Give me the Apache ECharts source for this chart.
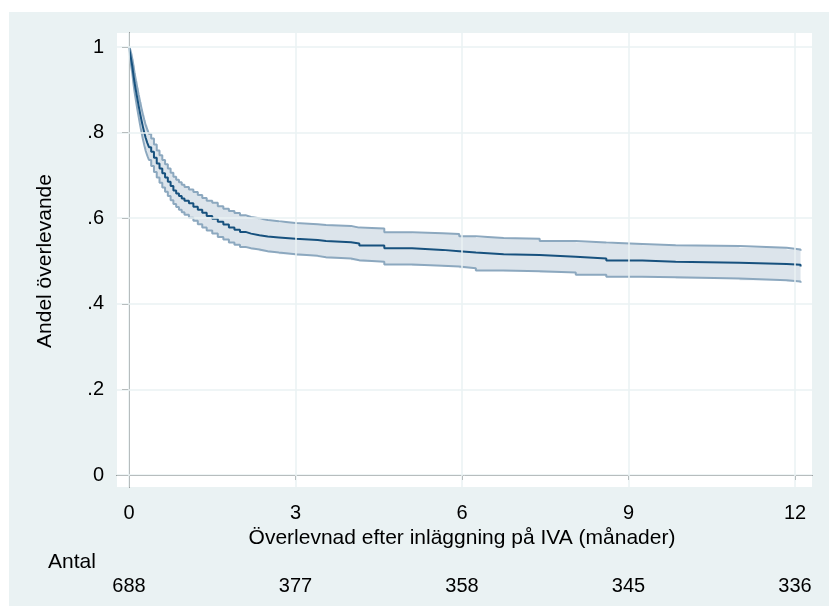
<!DOCTYPE html>
<html>
	<head>
		<meta charset="utf-8" />
		<script type="text/javascript" src="https://cdn.jsdelivr.net/npm/echarts@6/dist/echarts.min.js"></script>
		<title></title>
		<style>
			body { margin: 0; background: #ffffff; }
			#chartmain { position: absolute; left: 9px; top: 12px; width: 820px; height: 594px; }
		</style>
	</head>
	<body>
		<div id="chartmain"></div>
		<script type="text/javascript">
// tid i månader
var tid = [
  0, 0.02, 0.04, 0.06, 0.08,
  0.1, 0.125, 0.15, 0.175, 0.2,
  0.225, 0.25, 0.275, 0.3, 0.33,
  0.36, 0.4, 0.45, 0.5, 0.55,
  0.6, 0.65, 0.7, 0.75, 0.8,
  0.85, 0.9, 0.95, 1.0, 1.08,
  1.16, 1.24, 1.32, 1.4, 1.5,
  1.6, 1.7, 1.8, 1.9, 2.0,
  2.1, 2.2, 2.35, 2.5, 2.7,
  3.0, 3.4, 3.55, 4.0, 4.15, 4.6, 5.1, 5.65, 5.95, 6.25,
  6.75, 7.4, 8.05, 8.6, 9.25, 9.85, 11.0, 11.85, 12.1];
// andel överlevande (Kaplan-Meier)
var overlevnad = [
  1, 0.985, 0.97, 0.955, 0.935,
  0.917, 0.898, 0.88, 0.862, 0.845,
  0.829, 0.814, 0.80, 0.788, 0.776,
  0.766, 0.755, 0.741, 0.728, 0.716,
  0.705, 0.695, 0.685, 0.675, 0.665,
  0.658, 0.652, 0.646, 0.641, 0.635,
  0.627, 0.620, 0.613, 0.605, 0.599,
  0.592, 0.585, 0.578, 0.573, 0.568,
  0.564, 0.560, 0.557, 0.555, 0.552,
  0.549, 0.547, 0.544, 0.541, 0.536, 0.530, 0.526, 0.523, 0.520, 0.516,
  0.514, 0.510, 0.506, 0.501, 0.498, 0.496, 0.493, 0.491, 0.487];
// 95% konfidensintervall
var ovre = [
  1, 0.995, 0.985, 0.972, 0.957,
  0.94, 0.922, 0.905, 0.888, 0.872,
  0.857, 0.843, 0.83, 0.818, 0.807,
  0.797, 0.786, 0.772, 0.758, 0.747,
  0.736, 0.726, 0.716, 0.706, 0.697,
  0.690, 0.684, 0.678, 0.673, 0.667,
  0.661, 0.654, 0.647, 0.641, 0.636,
  0.628, 0.622, 0.617, 0.612, 0.607,
  0.603, 0.600, 0.596, 0.593, 0.589,
  0.586, 0.584, 0.582, 0.578, 0.576, 0.567, 0.565, 0.563, 0.558, 0.554,
  0.552, 0.547, 0.543, 0.540, 0.537, 0.535, 0.531, 0.527, 0.524];
var undre = [
  1, 0.975, 0.955, 0.938, 0.915,
  0.895, 0.875, 0.855, 0.836, 0.818,
  0.801, 0.785, 0.771, 0.758, 0.746,
  0.736, 0.722, 0.708, 0.695, 0.683,
  0.672, 0.662, 0.652, 0.642, 0.633,
  0.626, 0.620, 0.614, 0.608, 0.601,
  0.594, 0.586, 0.578, 0.571, 0.564,
  0.556, 0.550, 0.543, 0.538, 0.533,
  0.530, 0.527, 0.523, 0.520, 0.516,
  0.512, 0.509, 0.506, 0.502, 0.498, 0.492, 0.489, 0.487, 0.483, 0.478,
  0.476, 0.473, 0.468, 0.463, 0.462, 0.459, 0.455, 0.452, 0.449];
// antal i risk vid 0, 3, 6, 9, 12 månader
var riskTid = [0, 3, 6, 9, 12];
var antal = [688, 377, 358, 345, 336];
var yTicks = [0, 0.2, 0.4, 0.6, 0.8, 1];

var bg = '#EAF2F3';
var font = '"Liberation Sans", Arial, sans-serif';

function pairs(ys) {
  return tid.map(function (t, i) { return [t, ys[i]]; });
}

// konfidensband som trappstegspolygon
function renderBand(params, api) {
  var pts = [];
  var n = tid.length;
  for (var i = 0; i < n; i++) {
    pts.push(api.coord([tid[i], ovre[i]]));
    if (i < n - 1) pts.push(api.coord([tid[i + 1], ovre[i]]));
  }
  for (var j = n - 1; j >= 0; j--) {
    if (j < n - 1) pts.push(api.coord([tid[j + 1], undre[j]]));
    pts.push(api.coord([tid[j], undre[j]]));
  }
  return {
    type: 'polygon',
    shape: { points: pts },
    style: { fill: '#DCE4EB', stroke: null }
  };
}

var gridLines = riskTid.map(function (v) { return { xAxis: v }; })
  .concat(yTicks.map(function (v) { return { yAxis: v }; }));

option = {
  animation: false,
  backgroundColor: bg,
  textStyle: { fontFamily: font },
  graphic: [
    { type: 'text', left: 39, top: 540, style: { text: 'Antal', fontSize: 21, fontFamily: font, fill: '#000' } }
  ],
  grid: [
    { left: 108, right: 17, top: 21, bottom: 119, show: true, backgroundColor: '#ffffff', borderWidth: 0 },
    { left: 120, right: 34, top: 35, bottom: 131 }
  ],
  xAxis: [
    {
      gridIndex: 0, type: 'value', min: -0.216, max: 12.306,
      offset: 2,
      axisLine: { show: true, lineStyle: { color: '#222', width: 1 } },
      axisTick: { show: false }, axisLabel: { show: false }, splitLine: { show: false }
    },
    {
      gridIndex: 1, type: 'value', min: 0, max: 12, interval: 3,
      offset: 14,
      name: 'Överlevnad efter inläggning på IVA (månader)',
      nameLocation: 'middle', nameGap: 33,
      nameTextStyle: { fontSize: 21, color: '#000', fontFamily: font },
      axisLine: { show: false },
      axisTick: { show: true, length: 5, lineStyle: { color: '#222' } },
      axisLabel: { fontSize: 20, color: '#000', margin: 14, fontFamily: font },
      splitLine: { show: false }
    },
    {
      gridIndex: 1, type: 'value', min: 0, max: 12, interval: 3,
      position: 'bottom', offset: 90,
      axisLine: { show: false }, axisTick: { show: false }, splitLine: { show: false },
      axisLabel: {
        fontSize: 20, color: '#000', margin: 11, fontFamily: font,
        formatter: function (v) { return String(antal[riskTid.indexOf(v)]); }
      }
    }
  ],
  yAxis: [
    {
      gridIndex: 0, type: 'value', min: -0.028, max: 1.0327,
      offset: 1.5,
      axisLine: { show: true, lineStyle: { color: '#222', width: 1 } },
      axisTick: { show: false }, axisLabel: { show: false }, splitLine: { show: false }
    },
    {
      gridIndex: 1, type: 'value', min: 0, max: 1, interval: 0.2,
      offset: 13,
      name: 'Andel överlevande',
      nameLocation: 'middle', nameGap: 60,
      nameTextStyle: { fontSize: 21, color: '#000', fontFamily: font },
      axisLine: { show: false },
      axisTick: { show: true, length: 7, lineStyle: { color: '#222' } },
      axisLabel: {
        fontSize: 20, color: '#000', margin: 12, fontFamily: font,
        formatter: function (v) {
          if (v === 0 || v === 1) return String(v);
          return v.toFixed(1).replace('0.', '.');
        }
      },
      splitLine: { show: false }
    }
  ],
  series: [
    {
      name: 'rutnät', type: 'line', xAxisIndex: 0, yAxisIndex: 0,
      data: [[0, 1]], symbol: 'none', z: 1, silent: true,
      lineStyle: { opacity: 0 },
      markLine: {
        silent: true, symbol: 'none', label: { show: false },
        lineStyle: { color: bg, width: 1.5, type: 'solid' },
        data: gridLines
      }
    },
    {
      name: 'band', type: 'custom', xAxisIndex: 0, yAxisIndex: 0,
      data: [[0, 1]], renderItem: renderBand, z: 2, silent: true
    },
    {
      name: 'övre', type: 'line', xAxisIndex: 0, yAxisIndex: 0,
      data: pairs(ovre), step: 'end', symbol: 'none', z: 3,
      lineStyle: { color: '#8CA8BF', width: 2 }
    },
    {
      name: 'undre', type: 'line', xAxisIndex: 0, yAxisIndex: 0,
      data: pairs(undre), step: 'end', symbol: 'none', z: 3,
      lineStyle: { color: '#8CA8BF', width: 2 }
    },
    {
      name: 'överlevnad', type: 'line', xAxisIndex: 0, yAxisIndex: 0,
      data: pairs(overlevnad), step: 'end', symbol: 'none', z: 4,
      lineStyle: { color: '#17517E', width: 2 }
    }
  ]
};
			var myChart = echarts.init(document.getElementById('chartmain'));
			myChart.setOption(option);

			window.addEventListener('resize', function () {
				myChart.resize()
			})
		</script>
	</body>
</html>
